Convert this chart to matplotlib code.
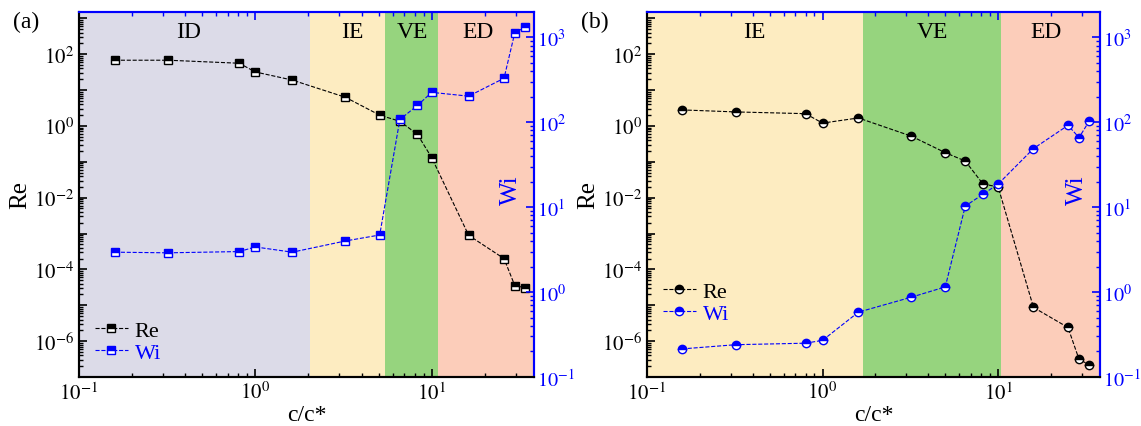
import numpy as np
import matplotlib
matplotlib.use('Agg')
import matplotlib.pyplot as plt
from matplotlib.ticker import LogLocator, FuncFormatter, NullFormatter
from matplotlib.lines import Line2D

plt.rcParams['font.family'] = ['Liberation Serif', 'DejaVu Serif']
plt.rcParams['mathtext.fontset'] = 'stix'

# panel (a) data
c_a = [0.16, 0.32, 0.81, 1.0, 1.62, 3.24, 5.07, 6.6, 8.3, 10.0, 16.2, 25.7, 29.6, 33.8]
re_a = [68, 68, 56, 32, 19, 6.3, 2.0, 1.35, 0.58, 0.13, 8.9e-4, 2.0e-4, 3.5e-5, 3.1e-5]
wi_a = [2.95, 2.9, 3.0, 3.4, 2.95, 4.0, 4.7, 108, 158, 225, 203, 330, 1140, 1310]

# panel (b) data
c_b = [0.158, 0.32, 0.8, 1.0, 1.6, 3.2, 5.0, 6.5, 8.2, 10.0, 15.9, 25.0, 28.9, 33.0]
re_b = [2.8, 2.46, 2.2, 1.2, 1.67, 0.52, 0.18, 0.105, 0.024, 0.02, 8.7e-6, 2.4e-6, 3.1e-7, 2.2e-7]
wi_b = [0.214, 0.24, 0.25, 0.27, 0.58, 0.87, 1.15, 10.3, 14.2, 18.7, 49, 92, 66, 103]

# regime bands: (name, start, end, label x, colour)
regions_a = [('ID', 0.1, 2.03, 0.42, '#dcdbe8'),
             ('IE', 2.03, 5.4, 3.56, '#fdecc1'),
             ('VE', 5.4, 10.8, 7.8, '#96d47e'),
             ('ED', 10.8, 40, 18.2, '#fccdba')]
regions_b = [('IE', 0.1, 1.71, 0.41, '#fdecc1'),
             ('VE', 1.71, 10.4, 4.2, '#96d47e'),
             ('ED', 10.4, 40, 18.7, '#fccdba')]

XLIM = (0.1, 38)
RE_LIM = (1e-7, 10 ** 3.18)
WI_LIM = (0.1, 10 ** 3.3)
BLUE = '#0000ff'


def exp_label(v, p, even_only=False):
    e = int(round(np.log10(v)))
    if even_only and e % 2 != 0:
        return ''
    return r'$10^{%d}$' % e


def panel(rect, letter, c, re, wi, regions, marker, leg_y):
    ax = fig.add_axes(rect)
    ax2 = ax.twinx()
    ax.set_xscale('log')
    ax.set_yscale('log')
    ax2.set_yscale('log')
    ax.set_xlim(*XLIM)
    ax.set_ylim(*RE_LIM)
    ax2.set_ylim(*WI_LIM)

    for name, x0, x1, xl, col in regions:
        ax.axvspan(x0, x1, color=col, lw=0, zorder=0)
        ax.text(xl, 0.945, name, transform=ax.get_xaxis_transform(),
                ha='center', va='center', fontsize=17)

    ax.plot(c, re, ls='--', lw=0.8, color='black', marker=marker, ms=6,
            fillstyle='top', markerfacecolor='black', markerfacecoloralt='white',
            markeredgecolor='black', markeredgewidth=1.0, zorder=3)
    ax2.plot(c, wi, ls='--', lw=0.8, color=BLUE, marker=marker, ms=6,
             fillstyle='top', markerfacecolor=BLUE, markerfacecoloralt='white',
             markeredgecolor=BLUE, markeredgewidth=1.0, zorder=3)

    # left axis ticks
    ax.yaxis.set_major_locator(LogLocator(base=10, numticks=20))
    ax.yaxis.set_minor_locator(LogLocator(base=10, subs=np.arange(2, 10), numticks=20))
    ax.yaxis.set_major_formatter(FuncFormatter(lambda v, p: exp_label(v, p, True)))
    ax.yaxis.set_minor_formatter(NullFormatter())
    # right axis ticks
    ax2.yaxis.set_major_locator(LogLocator(base=10, numticks=20))
    ax2.yaxis.set_minor_locator(LogLocator(base=10, subs=np.arange(2, 10), numticks=20))
    ax2.yaxis.set_major_formatter(FuncFormatter(exp_label))
    ax2.yaxis.set_minor_formatter(NullFormatter())
    ax.xaxis.set_major_formatter(FuncFormatter(exp_label))

    ax.tick_params(axis='both', which='both', direction='in', labelsize=15)
    ax.tick_params(which='major', length=6, width=1.2)
    ax.tick_params(which='minor', length=3, width=1.0)
    ax2.tick_params(axis='y', which='both', direction='in', colors=BLUE, labelsize=14.5, pad=2)
    ax2.tick_params(which='major', length=6, width=1.2)
    ax2.tick_params(which='minor', length=3, width=1.0)
    # blue ticks along the top spine
    ax2.xaxis.set_visible(True)
    ax2.tick_params(axis='x', which='both', bottom=False, top=True, labelbottom=False,
                    labeltop=False, direction='in', colors=BLUE)
    ax2.tick_params(axis='x', which='major', length=6, width=1.2)
    ax2.tick_params(axis='x', which='minor', length=3, width=1.0)

    for a in (ax, ax2):
        for s in a.spines.values():
            s.set_linewidth(1.5)
        a.spines['top'].set_color(BLUE)
        a.spines['right'].set_color(BLUE)
        a.spines['left'].set_color('black')
        a.spines['bottom'].set_color('black')

    ax.set_ylabel('Re', fontsize=18, labelpad=2)
    ax.set_xlabel('c/c*', fontsize=17, labelpad=0)
    ax.text(0.95, 0.515, 'Wi', transform=ax.transAxes, rotation=90, color=BLUE,
            fontsize=18, ha='center', va='center')
    ax.text(-0.145, 0.975, letter, transform=ax.transAxes, fontsize=17,
            ha='left', va='center')

    handles = [Line2D([], [], ls='--', lw=0.8, color='black', marker=marker, ms=6,
                      fillstyle='top', markerfacecolor='black', markerfacecoloralt='white',
                      markeredgecolor='black'),
               Line2D([], [], ls='--', lw=0.8, color=BLUE, marker=marker, ms=6,
                      fillstyle='top', markerfacecolor=BLUE, markerfacecoloralt='white',
                      markeredgecolor=BLUE)]
    leg = ax2.legend(handles, ['Re', 'Wi'], loc='lower left', bbox_to_anchor=(0.0, leg_y),
                     frameon=False, fontsize=16, handlelength=1.5, handletextpad=0.3,
                     labelspacing=0.05, borderaxespad=0.3)
    leg.get_texts()[1].set_color(BLUE)
    return ax, ax2


fig = plt.figure(figsize=(11.41, 4.27), dpi=100)
panel([0.0692, 0.1148, 0.3988, 0.855], '(a)', c_a, re_a, wi_a, regions_a, 's', -0.003)
panel([0.567, 0.1148, 0.397, 0.855], '(b)', c_b, re_b, wi_b, regions_b, 'o', 0.103)

fig.savefig('out.png', dpi=100)
